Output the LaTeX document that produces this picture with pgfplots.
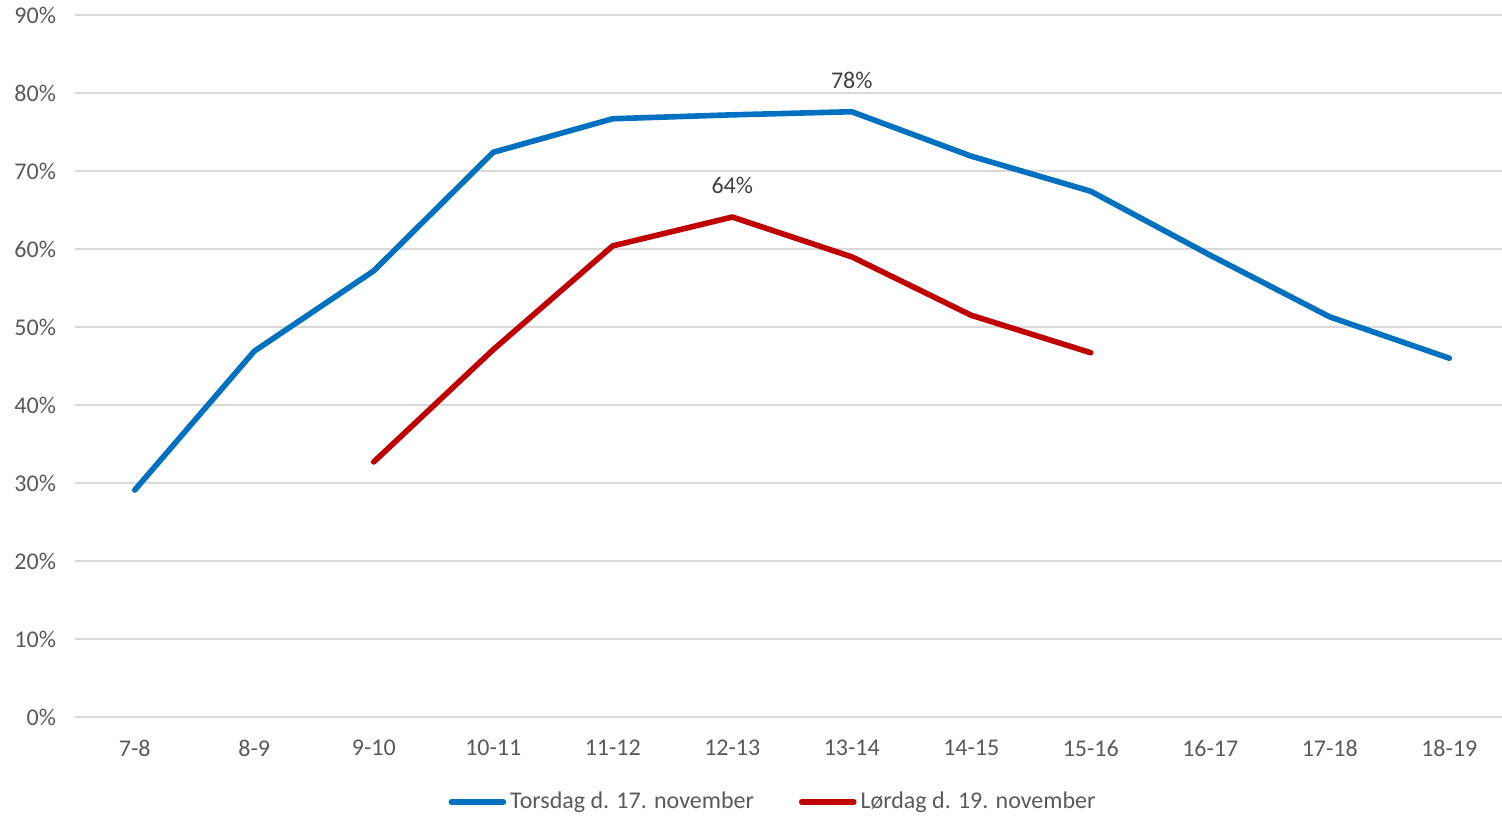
\documentclass[border=0pt]{standalone}
\usepackage{fontspec}
\setmainfont{Carlito}
\usepackage{pgfplots}
\pgfplotsset{compat=1.18}
\definecolor{tblue}{HTML}{0070C0}
\definecolor{tred}{HTML}{C00000}
\definecolor{tgrid}{HTML}{D9D9D9}
\definecolor{ttext}{HTML}{595959}
\definecolor{tlab}{HTML}{404040}
\begin{document}
\begin{tikzpicture}
\begin{axis}[
  name=ax,
  scale only axis,
  width=717pt, height=351pt,
  xmin=-0.5, xmax=11.5,
  ymin=0, ymax=90,
  xtick={0,...,11},
  xticklabels={7-8,8-9,9-10,10-11,11-12,12-13,13-14,14-15,15-16,16-17,17-18,18-19},
  ytick={0,10,...,90},
  yticklabel={\pgfmathprintnumber{\tick}\%},
  /pgf/number format/assume math mode=true,
  ymajorgrids,
  grid style={tgrid, line width=1pt},
  axis line style={draw=none},
  major tick length=0pt,
  tick label style={font=\fontsize{12}{14}\selectfont, text=ttext},
  xticklabel style={yshift=-8pt},
  yticklabel style={xshift=-6pt},
  legend columns=2,
  legend style={at={(0.4875,-0.121)}, anchor=center, draw=none, fill=none,
    font=\fontsize{12}{14}\selectfont, text=ttext,
    /tikz/every even column/.append style={column sep=20.5pt},
    inner sep=0pt},
  legend cell align=left,
  legend image code/.code={\draw[#1, line width=2.8pt, line cap=round] (0pt,0pt) -- (26pt,0pt);},
]
\draw[tgrid, line width=1pt] (axis cs:-0.5,0) -- (axis cs:11.5,0);
\addplot[tblue, line width=2.8pt, line join=round, line cap=round] coordinates {
(0,29.1) (1,46.9) (2,57.2) (3,72.4) (4,76.7) (5,77.2) (6,77.6) (7,71.9) (8,67.4) (9,59.2) (10,51.3) (11,46.0)};
\addlegendentry{Torsdag d. 17. november}
\addplot[tred, line width=2.8pt, line join=round, line cap=round] coordinates {
(2,32.7) (3,47.1) (4,60.4) (5,64.1) (6,59.0) (7,51.5) (8,46.7)};
\addlegendentry{Lørdag d. 19. november}
\node[above, text=tlab, font=\fontsize{12}{14}\selectfont, yshift=8pt] at (axis cs:6,77.6) {78\%};
\node[above, text=tlab, font=\fontsize{12}{14}\selectfont, yshift=8pt] at (axis cs:5,64.1) {64\%};
\end{axis}
\pgfresetboundingbox
\path[use as bounding box] ([xshift=-37.5pt,yshift=-49pt]ax.south west) rectangle ([xshift=-3.5pt,yshift=7.5pt]ax.north east);
\end{tikzpicture}
\end{document}
